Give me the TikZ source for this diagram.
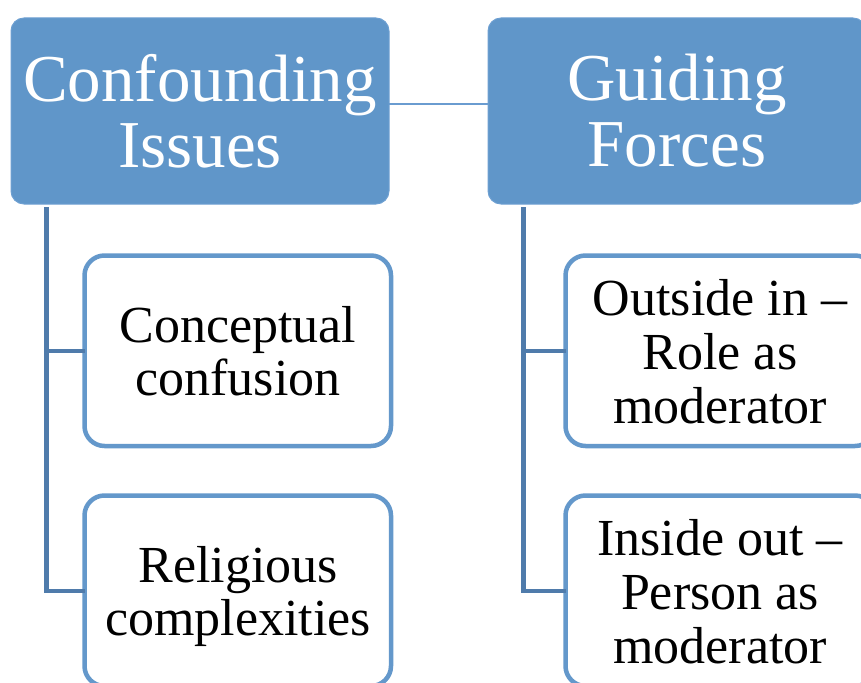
\documentclass[tikz,border=0pt]{standalone}
\usepackage{fontspec}
\setmainfont{Liberation Serif}
\definecolor{topfill}{RGB}{96,150,201}
\definecolor{topline}{RGB}{110,160,210}
\definecolor{kidline}{RGB}{100,152,203}
\definecolor{trunk}{RGB}{79,123,171}
\definecolor{link}{RGB}{106,156,208}
\begin{document}
\begin{tikzpicture}[x=1pt,y=-1pt,
  topbox/.style={draw=topline, line width=1pt, fill=topfill, rounded corners=13pt},
  toptext/.style={text=white, align=center, font=\fontsize{67}{66}\selectfont},
  kidbox/.style={draw=kidline, line width=4.5pt, fill=white, rounded corners=20pt},
  kidtext/.style={text=black, align=center, font=\fontsize{52}{53}\selectfont},
  trunkline/.style={draw=trunk, line width=4.5pt},
  linkline/.style={draw=link, line width=2pt}]
\useasboundingbox (0,0) rectangle (861,682);
\clip (0,0) rectangle (861,682);
% top boxes
\path[topbox] (11,18) rectangle (389,204);
\node[toptext] (ci) at (200,111) {Confounding\\Issues};
\path[topbox] (488,18) rectangle (866,204);
\node[toptext] (gf) at (677,111) {Guiding\\Forces};
\coordinate (ciR) at (389,104);
\coordinate (gfL) at (488,104);
\draw[linkline] (ciR) -- (gfL);
% children boxes
\path[kidbox] (84.5,255.5) rectangle (391,446);
\node[kidtext] (cc) at (238,351) {Conceptual\\confusion};
\path[kidbox] (84.5,495.5) rectangle (391,686);
\node[kidtext] (rc) at (238,596) {Religious\\complexities};
\path[kidbox] (565.5,255.5) rectangle (875,446);
\node[kidtext, font=\fontsize{52}{54}\selectfont] (oi) at (720,352) {Outside in --\\Role as\\moderator};
\path[kidbox] (565.5,495.5) rectangle (875,686);
\node[kidtext, font=\fontsize{52}{54}\selectfont] (io) at (720,592) {Inside out --\\Person as\\moderator};
% trunks
\coordinate (t1) at (46.5,207);
\coordinate (t1a) at (46.5,351);
\coordinate (t1b) at (46.5,591);
\coordinate (k1a) at (84.5,351);
\coordinate (k1b) at (84.5,591);
\draw[trunkline] (t1) -- (t1b) -- (k1b);
\draw[trunkline] (t1a) -- (k1a);
\coordinate (t2) at (523.5,207);
\coordinate (t2a) at (523.5,351);
\coordinate (t2b) at (523.5,591);
\coordinate (k2a) at (565.5,351);
\coordinate (k2b) at (565.5,591);
\draw[trunkline] (t2) -- (t2b) -- (k2b);
\draw[trunkline] (t2a) -- (k2a);
\end{tikzpicture}
\end{document}
